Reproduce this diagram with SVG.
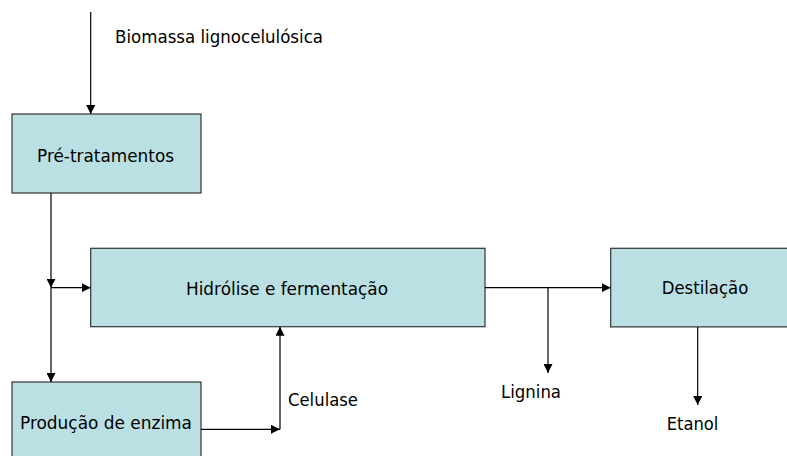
<svg xmlns="http://www.w3.org/2000/svg" width="787" height="456" viewBox="0 0 787 456">
<style>
.box{fill:#BBE0E3;stroke:#333333;stroke-width:1.2}
.lbl{font-family:"DejaVu Sans","Liberation Sans",sans-serif;font-size:17.5px;fill:#000000}
.ln{fill:none;stroke:#000000;stroke-width:1.2}
</style>
<defs>
<marker id="ah" viewBox="0 0 10 10" refX="10" refY="5" markerWidth="9" markerHeight="9" markerUnits="userSpaceOnUse" orient="auto">
<path d="M0,0 L10,5 L0,10 z" fill="#000000"/>
</marker>
</defs>
<rect width="787" height="456" fill="#ffffff"/>
<g id="pretratamentos">
<rect class="box" x="12" y="114" width="189" height="79"/>
<text class="lbl" x="37" y="162" textLength="137" lengthAdjust="spacingAndGlyphs">Pré-tratamentos</text>
</g>
<g id="hidrolise">
<rect class="box" x="90.7" y="248.3" width="394.3" height="78.4"/>
<text class="lbl" x="186" y="295" textLength="202" lengthAdjust="spacingAndGlyphs">Hidrólise e fermentação</text>
</g>
<g id="producao">
<rect class="box" x="12" y="382" width="189" height="80"/>
<text class="lbl" x="20" y="429" textLength="172" lengthAdjust="spacingAndGlyphs">Produção de enzima</text>
</g>
<g id="destilacao">
<rect class="box" x="610.7" y="248.3" width="190" height="78.6"/>
<text class="lbl" x="661.7" y="294" textLength="86.6" lengthAdjust="spacingAndGlyphs">Destilação</text>
</g>
<g id="labels">
<text class="lbl" x="115" y="43" textLength="208" lengthAdjust="spacingAndGlyphs">Biomassa lignocelulósica</text>
<text class="lbl" x="288" y="406" textLength="70" lengthAdjust="spacingAndGlyphs">Celulase</text>
<text class="lbl" x="501" y="398" textLength="60" lengthAdjust="spacingAndGlyphs">Lignina</text>
<text class="lbl" x="666.7" y="430" textLength="51.7" lengthAdjust="spacingAndGlyphs">Etanol</text>
</g>
<g id="connectors">
<line class="ln" x1="90.7" y1="12" x2="90.7" y2="114" marker-end="url(#ah)"/>
<line class="ln" x1="51" y1="193" x2="51" y2="287.7" marker-end="url(#ah)"/>
<line class="ln" x1="51" y1="287.7" x2="51" y2="382" marker-end="url(#ah)"/>
<line class="ln" x1="51" y1="287.7" x2="90.7" y2="287.7" marker-end="url(#ah)"/>
<line class="ln" x1="201" y1="429.3" x2="280" y2="429.3" marker-end="url(#ah)"/>
<line class="ln" x1="280" y1="429.3" x2="280" y2="326.7" marker-end="url(#ah)"/>
<line class="ln" x1="485" y1="287.7" x2="610.7" y2="287.7" marker-end="url(#ah)"/>
<line class="ln" x1="548" y1="287.7" x2="548" y2="373" marker-end="url(#ah)"/>
<line class="ln" x1="697.7" y1="326.9" x2="697.7" y2="405" marker-end="url(#ah)"/>
</g>
</svg>
